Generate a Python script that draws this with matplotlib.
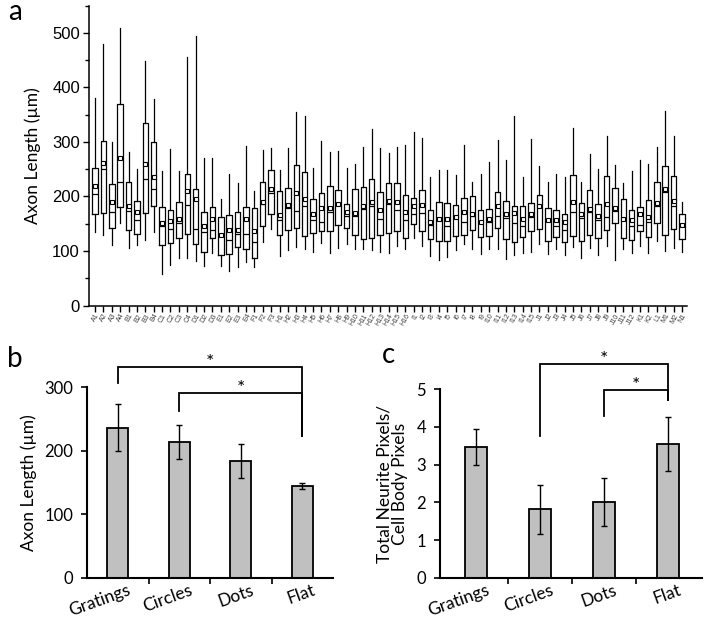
import matplotlib
matplotlib.use("Agg")
import matplotlib.pyplot as plt
from matplotlib.ticker import MultipleLocator
from matplotlib.transforms import ScaledTranslation

plt.rcParams["font.family"] = ["Lato", "DejaVu Sans"]

# Panel a: axon length distribution per substrate (um)
labels_a = ["A1", "A2", "A3", "A4", "B1", "B2", "B3", "B4",
            "C1", "C2", "C3", "C4", "D1", "D2", "D3",
            "E1", "E2", "E3", "E4", "F1", "F2", "F3",
            "H1", "H2", "H3", "H4", "H5", "H6", "H7", "H8", "H9", "H10",
            "H11", "H12", "H13", "H14", "H15", "H16",
            "I1", "I2", "I3", "I4", "I5", "I6", "I7", "I8", "I9", "I10",
            "I11", "I12", "I13", "I14", "I15",
            "J1", "J2", "J3", "J4", "J5", "J6", "J7", "J8", "J9", "J10", "J11", "J12",
            "K1", "K2", "L1", "M1", "M2", "N1"]
whisker_hi = [380, 480, 300, 509, 281, 251, 449, 379,
              247, 287, 247, 455, 494, 271, 270,
              195, 242, 224, 293, 210, 285, 289,
              249, 288, 355, 348, 253, 302, 282, 284, 253, 259,
              290, 324, 289, 279, 291, 294,
              319, 308, 235, 249, 248, 240, 294, 226, 241, 263,
              304, 267, 347, 236, 305,
              256, 226, 242, 236, 325, 226, 278, 250, 311, 258, 224, 247,
              267, 259, 291, 356, 311, 189]
q3 = [252, 302, 222, 370, 227, 191, 335, 300,
      181, 175, 190, 242, 213, 172, 180,
      163, 166, 171, 180, 178, 226, 248,
      210, 216, 257, 244, 195, 206, 220, 211, 186, 214,
      218, 232, 208, 224, 224, 203,
      197, 212, 176, 189, 188, 185, 198, 200, 176, 177,
      209, 191, 183, 182, 188,
      203, 179, 176, 167, 240, 188, 212, 187, 238, 215, 195, 176,
      181, 194, 227, 255, 238, 167]
means = [220, 262, 189, 270, 183, 171, 259, 236,
         151, 155, 159, 210, 195, 145, 159,
         130, 138, 138, 159, 137, 190, 213,
         166, 185, 207, 195, 167, 179, 179, 186, 171, 170,
         183, 189, 176, 191, 189, 171,
         183, 184, 154, 159, 159, 162, 171, 168, 154, 159,
         183, 168, 169, 158, 167,
         182, 156, 156, 153, 190, 167, 177, 165, 187, 178, 159, 156,
         167, 162, 188, 214, 192, 148]
medians = [204, 250, 171, 226, 174, 157, 232, 213,
           146, 141, 152, 184, 141, 134, 138,
           129, 121, 131, 132, 116, 186, 207,
           157, 179, 174, 183, 157, 154, 171, 185, 165, 165,
           177, 183, 159, 186, 176, 156,
           168, 170, 148, 157, 145, 160, 154, 165, 153, 153,
           165, 160, 151, 145, 162,
           180, 156, 145, 139, 171, 160, 171, 156, 162, 173, 157, 145,
           147, 154, 183, 209, 183, 148]
q1 = [167, 169, 143, 180, 138, 131, 170, 182,
      111, 114, 123, 132, 113, 98, 123,
      93, 95, 108, 104, 88, 145, 168,
      129, 138, 143, 128, 133, 136, 137, 148, 142, 129,
      122, 123, 129, 133, 136, 124,
      150, 136, 122, 118, 119, 128, 130, 139, 125, 128,
      142, 122, 117, 125, 136,
      140, 119, 126, 117, 127, 119, 129, 124, 139, 151, 124, 120,
      136, 125, 151, 130, 140, 122]
whisker_lo = [134, 130, 111, 151, 105, 111, 120, 134,
              58, 74, 88, 88, 82, 73, 96,
              73, 64, 71, 79, 70, 116, 141,
              90, 102, 108, 103, 99, 114, 96, 105, 113, 103,
              104, 101, 98, 96, 110, 104,
              124, 110, 90, 83, 89, 101, 113, 103, 95, 103,
              103, 85, 92, 96, 98,
              112, 95, 103, 92, 107, 87, 105, 92, 109, 84, 104, 96,
              109, 96, 119, 100, 106, 99]

# Panels b and c: group summaries
groups = ["Gratings", "Circles", "Dots", "Flat"]
axon_mean = [236, 214, 184, 145]
axon_err = [37, 27, 27, 5]
ratio_mean = [3.47, 1.82, 2.01, 3.55]
ratio_err = [0.47, 0.65, 0.63, 0.71]

# significance brackets: (left group, right group, bar height, left leg end, right leg end)
axon_sig = [(0, 3, 331, 306, 223), (1, 3, 290, 263, 223)]
ratio_sig = [(1, 3, 5.65, 3.75, 4.71), (2, 3, 4.97, 4.28, 4.71)]

fig = plt.figure(figsize=(7.05, 6.21), dpi=100)

# ---- panel a ----
ax_a = fig.add_axes([89 / 705, 315.5 / 621, 598 / 705, 300 / 621])
stats = [dict(label=lab, whishi=hi, q3=b3, mean=m, med=md, q1=b1, whislo=lo, fliers=[])
         for lab, hi, b3, m, md, b1, lo in zip(labels_a, whisker_hi, q3, means, medians, q1, whisker_lo)]
line = dict(color="black", linewidth=0.9)
ax_a.bxp(stats, positions=range(1, len(stats) + 1), widths=0.65,
         showmeans=True, showcaps=False, showfliers=False,
         boxprops=line, whiskerprops=line, medianprops=line,
         meanprops=dict(marker="s", markersize=3, markerfacecolor="white",
                        markeredgecolor="black", markeredgewidth=0.8))
ax_a.set_xlim(0.28, len(stats) + 0.6)
ax_a.set_ylim(0, 550)
ax_a.yaxis.set_major_locator(MultipleLocator(100))
ax_a.yaxis.set_minor_locator(MultipleLocator(50))
ax_a.spines["top"].set_visible(False)
ax_a.spines["right"].set_visible(False)
for s in ["left", "bottom"]:
    ax_a.spines[s].set_linewidth(1.1)
ax_a.tick_params(axis="y", which="major", length=4.5, width=1.0, labelsize=12, pad=2)
ax_a.tick_params(axis="y", which="minor", length=3, width=1.0)
ax_a.tick_params(axis="x", length=4, width=1.0, labelsize=5, pad=1, labelcolor="#444444")
for t in ax_a.get_yticklabels():
    t.set_family("Liberation Sans")
for t in ax_a.get_xticklabels():
    t.set_rotation(60)
    t.set_ha("right")
    t.set_rotation_mode("anchor")
    t.set_family("Liberation Sans")
ax_a.set_ylabel("Axon Length (µm)", fontsize=12.5, labelpad=8)


def bar_panel(ax, means_, errs, sig, ymax, step):
    x = range(len(groups))
    ax.bar(x, means_, width=0.34, color="#c0c0c0", edgecolor="black", linewidth=1.3,
           yerr=errs, error_kw=dict(ecolor="black", elinewidth=1.0, capsize=2, capthick=1.0))
    ax.set_ylim(0, ymax)
    ax.yaxis.set_major_locator(MultipleLocator(step))
    ax.set_xticks(list(x))
    ax.set_xticklabels(groups)
    ax.set_xticks([0.5, 1.5, 2.5], minor=True)
    ax.tick_params(axis="x", which="major", length=0, labelsize=12.5, pad=3)
    ax.tick_params(axis="x", which="minor", length=4, width=1.2)
    ax.tick_params(axis="y", length=4, width=1.2, labelsize=12, pad=6)
    shift = ScaledTranslation(7 / 72, 0, fig.dpi_scale_trans)
    for t in ax.get_xticklabels():
        t.set_rotation(20)
        t.set_ha("right")
        t.set_rotation_mode("anchor")
        t.set_transform(t.get_transform() + shift)
    ax.spines["top"].set_visible(False)
    ax.spines["right"].set_visible(False)
    for s in ["left", "bottom"]:
        ax.spines[s].set_linewidth(1.5)
    for x0, x1, y, y0, y1 in sig:
        ax.plot([x0, x0, x1, x1], [y0, y, y, y1], color="black", linewidth=1.3,
                clip_on=False, solid_joinstyle="miter")
        ax.annotate("*", xy=((x0 + x1) / 2, y), xytext=(0, -2.5), textcoords="offset points",
                    ha="center", va="bottom", fontsize=14, annotation_clip=False)


# ---- panel b ----
ax_b = fig.add_axes([87 / 705, 43 / 621, 246 / 705, 191 / 621])
bar_panel(ax_b, axon_mean, axon_err, axon_sig, 300, 100)
ax_b.set_xlim(-0.5, 3.5)
ax_b.set_ylabel("Axon Length (µm)", fontsize=12.5, labelpad=5)

# ---- panel c ----
ax_c = fig.add_axes([440 / 705, 43 / 621, 262 / 705, 189 / 621])
bar_panel(ax_c, ratio_mean, ratio_err, ratio_sig, 5, 1)
ax_c.set_xlim(-0.56, 3.53)
ax_c.set_ylabel("Total Neurite Pixels/\nCell Body Pixels", fontsize=12.5, labelpad=6,
                linespacing=1.0)

fig.text(0.011, 1 - 20 / 621, "a", fontsize=20, va="baseline")
fig.text(0.010, 1 - 367 / 621, "b", fontsize=20, va="baseline")
fig.text(382 / 705, 1 - 363 / 621, "c", fontsize=20, va="baseline")

fig.savefig("out.png", dpi=100)
